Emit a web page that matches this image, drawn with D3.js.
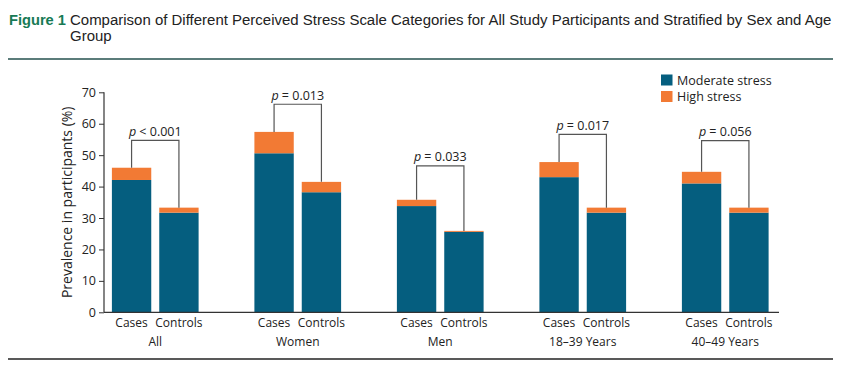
<!DOCTYPE html>
<html lang="en">
	<head>
		<meta charset="utf-8">
		<title>Figure 1 - Perceived Stress Scale</title>
		<script type="text/javascript" src="https://cdn.jsdelivr.net/npm/d3@7"></script>
		<style type="text/css">
			body { margin: 0; background: #fff; }
			text { font-family: "Open Sans", sans-serif; fill: #222; }
			.title { font-family: "Liberation Sans Narrow", "Liberation Sans", sans-serif; }
		</style>
	</head>
	<body>
		<script type="text/javascript">

			//Width and height
			var w = 841;
			var h = 376;

			//Data
			var groups = ["All", "Women", "Men", "18–39 Years", "40–49 Years"];
			var subgroups = ["Cases", "Controls"];
			var moderateCases = [42.1, 50.6, 33.8, 43.0, 41.0];
			var moderateControls = [31.7, 38.2, 25.6, 31.7, 31.7];
			var highCases = [3.9, 6.8, 2.0, 4.8, 3.7];
			var highControls = [1.6, 3.3, 0.3, 1.6, 1.6];
			var pTexts = ["< 0.001", "= 0.013", "= 0.033", "= 0.017", "= 0.056"];
			var bracketTop = [54.7, 66.2, 46.6, 56.6, 54.6];
			var yTicks = [0, 10, 20, 30, 40, 50, 60, 70];
			var series = ["Moderate stress", "High stress"];

			var colors = d3.scaleOrdinal().domain(series).range(["#055e7f", "#f27a34"]);

			//rows for stacking
			var rows = [];
			groups.forEach(function(g, i) {
				rows.push({ group: g, sub: "Cases", "Moderate stress": moderateCases[i], "High stress": highCases[i] });
				rows.push({ group: g, sub: "Controls", "Moderate stress": moderateControls[i], "High stress": highControls[i] });
			});
			var stacked = d3.stack().keys(series)(rows);

			var svg = d3.select("body")
						.append("svg")
						.attr("width", w)
						.attr("height", h);

			function fit(len, want) {
				return Math.max(0.8, Math.min(1.2, want / len));
			}

			//Title (narrow face, stretched to the original line width)
			var fig = svg.append("text")
				.attr("class", "title")
				.style("font-size", "15px")
				.style("font-weight", "bold")
				.style("fill", "#177a55")
				.text("Figure 1");
			fig.attr("transform", "translate(9,25) scale(" + fit(fig.node().getComputedTextLength(), 57) + ",1)");

			var title = svg.append("text").attr("class", "title").style("font-size", "14.5px");
			var line1 = title.append("tspan")
				.attr("x", 0).attr("y", 0)
				.text("Comparison of Different Perceived Stress Scale Categories for All Study Participants and Stratified by Sex and Age");
			title.append("tspan")
				.attr("x", 0).attr("y", 16.5)
				.text("Group");
			title.attr("transform", "translate(70,25) scale(" + fit(line1.node().getComputedTextLength(), 762) + ",1)");

			//rules
			svg.append("line")
				.attr("x1", 8).attr("x2", 833).attr("y1", 59).attr("y2", 59)
				.style("stroke", "#24504e").style("stroke-width", 1.5);
			svg.append("line")
				.attr("x1", 8).attr("x2", 833).attr("y1", 359).attr("y2", 359)
				.style("stroke", "#222").style("stroke-width", 1.5);

			//Scales
			var x = d3.scaleBand().domain(groups).range([84, 796.5]);
			var xs = d3.scaleBand().domain(subgroups).range([27.9, 114.6]).paddingInner(0.169);
			var y = d3.scaleLinear().domain([0, 70]).range([312.3, 92.3]);

			//Bars
			svg.selectAll("g.layer")
				.data(stacked)
				.enter()
				.append("g")
				.attr("class", "layer")
				.style("fill", function(d) { return colors(d.key); })
				.selectAll("rect")
				.data(function(d) { return d; })
				.enter()
				.append("rect")
				.attr("x", function(d) { return x(d.data.group) + xs(d.data.sub); })
				.attr("width", xs.bandwidth())
				.attr("y", function(d) { return y(d[1]); })
				.attr("height", function(d) { return y(d[0]) - y(d[1]); });

			//Y axis
			var yAxis = d3.axisLeft(y).tickValues(yTicks).tickSize(5).tickPadding(3);
			var gy = svg.append("g")
				.attr("transform", "translate(104,0)")
				.call(yAxis);
			gy.select(".domain").remove();
			gy.selectAll(".tick line").style("stroke", "#333");
			gy.selectAll(".tick text").style("font-size", "12.5px").style("fill", "#222").style("font-family", "Open Sans, sans-serif");
			svg.append("line")
				.attr("x1", 104).attr("x2", 104).attr("y1", y(70)).attr("y2", y(0))
				.style("stroke", "#333").style("stroke-width", 1.2);
			svg.append("line")
				.attr("x1", 104).attr("x2", 779).attr("y1", y(0)).attr("y2", y(0))
				.style("stroke", "#333").style("stroke-width", 1.2);

			svg.append("text")
				.attr("transform", "translate(72," + y(35) + ") rotate(-90)")
				.attr("text-anchor", "middle")
				.style("font-size", "14px")
				.text("Prevalence in participants (%)");

			//X labels
			groups.forEach(function(g) {
				subgroups.forEach(function(s) {
					svg.append("text")
						.attr("x", x(g) + xs(s) + xs.bandwidth() / 2)
						.attr("y", 327)
						.attr("text-anchor", "middle")
						.style("font-size", "12px")
						.text(s);
				});
				svg.append("text")
					.attr("x", x(g) + x.bandwidth() / 2)
					.attr("y", 346)
					.attr("text-anchor", "middle")
					.style("font-size", "12px")
					.text(g);
			});

			//p-value brackets
			groups.forEach(function(g, i) {
				var x1 = x(g) + xs("Cases") + xs.bandwidth() / 2;
				var x2 = x(g) + xs("Controls") + xs.bandwidth() / 2;
				var t1 = moderateCases[i] + highCases[i];
				var t2 = moderateControls[i] + highControls[i];
				svg.append("path")
					.attr("d", "M" + x1 + "," + y(t1) + "V" + y(bracketTop[i]) + "H" + x2 + "V" + y(t2))
					.style("fill", "none")
					.style("stroke", "#555")
					.style("stroke-width", 1.2);
				var lab = svg.append("text")
					.attr("x", (x1 + x2) / 2)
					.attr("y", y(bracketTop[i]) - 4.5)
					.attr("text-anchor", "middle")
					.style("font-size", "12.5px");
				lab.append("tspan").style("font-style", "italic").text("p");
				lab.append("tspan").text(" " + pTexts[i]);
			});

			//Legend
			var legend = svg.selectAll("g.legend")
				.data(series)
				.enter()
				.append("g")
				.attr("class", "legend")
				.attr("transform", function(d, i) { return "translate(661," + (74.5 + i * 16.5) + ")"; });
			legend.append("rect")
				.attr("width", 11.5)
				.attr("height", 11)
				.style("fill", function(d) { return colors(d); });
			legend.append("text")
				.attr("x", 16)
				.attr("y", 10)
				.style("font-size", "12.5px")
				.text(function(d) { return d; });

		</script>
	</body>
</html>
